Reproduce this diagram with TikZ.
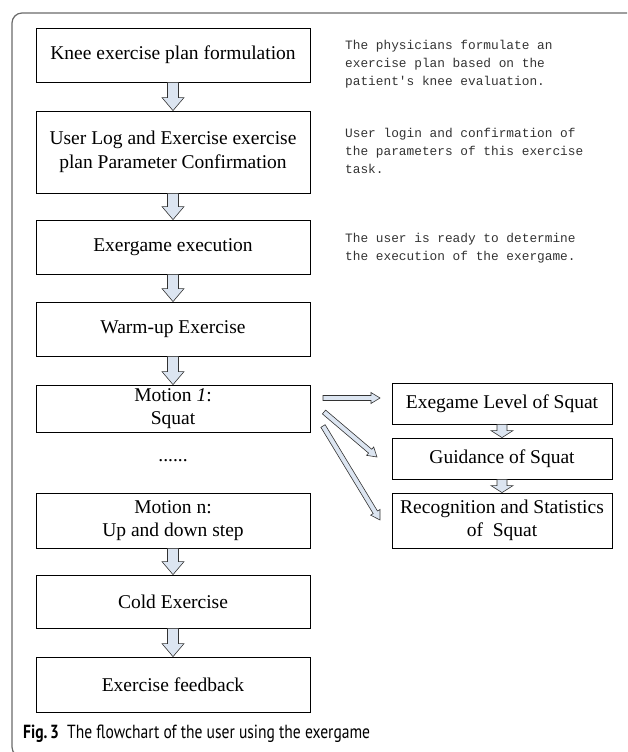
\documentclass[tikz,border=0pt]{standalone}
\usepackage{fontspec}
\setmainfont{Liberation Serif}
\newfontfamily\annfont{Liberation Mono}
\newfontfamily\capfont{PT Sans}
\usetikzlibrary{calc}
\definecolor{arrowfill}{HTML}{DCE5F1}
\definecolor{framecol}{HTML}{6A6A6A}
\definecolor{anncol}{HTML}{333333}
\tikzset{
  box/.style={draw=black, line width=0.8pt, inner sep=0pt, align=center,
    font=\fontsize{19.5}{23.5}\selectfont},
  mainbox/.style={box, minimum width=274pt},
  sidebox/.style={box, minimum width=220pt},
  ann/.style={anchor=base west, align=left, inner sep=0pt, text=anncol,
    font=\annfont\fontsize{12.8}{18}\selectfont},
  blockarrow/.style n args={3}{draw=black!80, fill=arrowfill, line width=0.6pt, line join=miter,
    to path={let \p1=(\tikztostart), \p2=(\tikztotarget),
      \n1={atan2(\y2-\y1,\x2-\x1)}, \n2={veclen(\x2-\x1,\y2-\y1)} in
      ([shift={(\p1)},rotate=\n1]0pt,{#1pt})
      -- ([shift={(\p1)},rotate=\n1]{\n2-#3pt},{#1pt})
      -- ([shift={(\p1)},rotate=\n1]{\n2-#3pt},{#2pt})
      -- ([shift={(\p1)},rotate=\n1]{\n2},0pt)
      -- ([shift={(\p1)},rotate=\n1]{\n2-#3pt},{-#2pt})
      -- ([shift={(\p1)},rotate=\n1]{\n2-#3pt},{-#1pt})
      -- ([shift={(\p1)},rotate=\n1]0pt,{-#1pt}) -- cycle}},
  bigarrow/.style={blockarrow={5.5}{11}{13}},
  smallarrow/.style={blockarrow={5}{11}{7}},
  thinarrow/.style={blockarrow={2.5}{5.5}{9}},
}
\begin{document}
\begin{tikzpicture}[x=1pt,y=-1pt]
\useasboundingbox (0,0) rectangle (627,752);
\begin{scope}
\clip (0,0) rectangle (627,752);
\draw[framecol, line width=1.2pt, rounded corners=10pt] (12,13) rectangle (700,757);
\end{scope}

% main column
\node[mainbox, minimum height=54pt] (b1) at (173,55) {Knee exercise plan formulation};
\node[mainbox, minimum height=82pt] (b2) at (173,152) {User Log and Exercise exercise\\plan Parameter Confirmation};
\node[mainbox, minimum height=54pt] (b3) at (173,247) {Exergame execution};
\node[mainbox, minimum height=54pt] (b4) at (173,329) {Warm-up Exercise};
\node[mainbox, minimum height=47pt] (b5) at (173,408.5) {Motion \textit{1}:\\Squat};
\node[inner sep=0pt, font=\fontsize{19.5}{23.5}\selectfont] (dots) at (173,461) {......};
\node[mainbox, minimum height=55pt] (b6) at (173,520.5) {Motion n:\\Up and down step};
\node[mainbox, minimum height=53pt] (b7) at (173,601.5) {Cold Exercise};
\node[mainbox, minimum height=55pt] (b8) at (173,684.5) {Exercise feedback};

% side column
\node[sidebox, minimum height=41pt] (r1) at (502,403.5) {Exegame Level of Squat};
\node[sidebox, minimum height=41pt] (r2) at (502,458.5) {Guidance of Squat};
\node[sidebox, minimum height=55pt] (r3) at (502,520.5) {Recognition and Statistics\\of\ \ Squat};

% annotations (anchor = baseline of last line)
\node[ann] (t1) at (345,85) {The physicians formulate an\\exercise plan based on the\\patient's knee evaluation.};
\node[ann] (t2) at (345,173) {User login and confirmation of\\the parameters of this exercise\\task.};
\node[ann] (t3) at (345,260) {The user is ready to determine\\the execution of the exergame.};

% vertical arrows
\path[bigarrow] (b1.south) to (b2.north);
\path[bigarrow] (b2.south) to (b3.north);
\path[bigarrow] (b3.south) to (b4.north);
\path[bigarrow] (b4.south) to (b5.north);
\path[bigarrow] (b6.south) to (b7.north);
\path[bigarrow] (b7.south) to (b8.north);
\path[smallarrow] (r1.south) to (r2.north);
\path[smallarrow] (r2.south) to (r3.north);

% diagonal arrows
\coordinate (s1) at (323,398);
\coordinate (e1) at (380,398);
\coordinate (s2) at (324,412);
\coordinate (e2) at (377,457);
\coordinate (s3) at (323,426);
\coordinate (e3) at (380,520);
\path[thinarrow] (s1) to (e1);
\path[thinarrow] (s2) to (e2);
\path[thinarrow] (s3) to (e3);

% caption
\node[anchor=base west, inner sep=0pt, font=\capfont\fontsize{19}{22}\selectfont] (cap) at (23,738)
  {\scalebox{0.82}[1]{\textbf{Fig.\,3}\ \ The flowchart of the user using the exergame}};
\end{tikzpicture}
\end{document}
